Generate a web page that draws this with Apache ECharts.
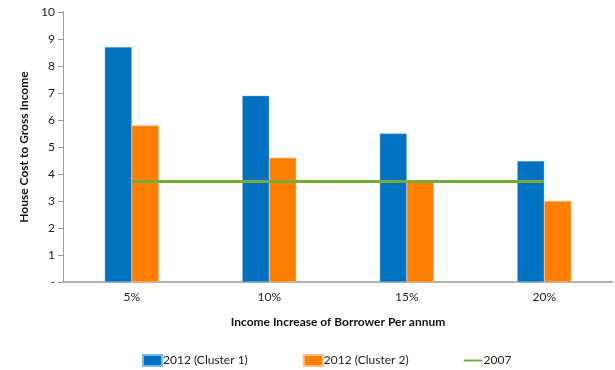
<!DOCTYPE html>
<html>
<head>
<meta charset="utf-8">
<script src="https://cdn.jsdelivr.net/npm/echarts@6/dist/echarts.min.js"></script>
<style>html,body{margin:0;padding:0;background:#fff}#c{width:615px;height:370px}</style>
</head>
<body>
<div id="c"></div>
<script>
const categories = ['5%', '10%', '15%', '20%'];
const cluster1 = [8.7, 6.9, 5.5, 4.48];
const cluster2 = [5.8, 4.6, 3.72, 3.0];
const line2007 = [3.72, 3.72, 3.72, 3.72];
const seriesNames = ['2012 (Cluster 1)', '2012 (Cluster 2)', '2007'];

const font = 'Lato, "Open Sans", sans-serif';
const chart = echarts.init(document.getElementById('c'));
chart.setOption({
  animation: false,
  textStyle: { fontFamily: font },
  grid: { left: 63, right: 2, top: 12, bottom: 88 },
  legend: {
    data: [
      { name: seriesNames[0], icon: 'rect' },
      { name: seriesNames[1], icon: 'rect' },
      { name: seriesNames[2], icon: 'path://M0,0 L20,0 L20,2 L0,2 Z' }
    ],
    left: 142, top: 354, padding: 0,
    itemWidth: 19, itemHeight: 11, itemGap: 55,
    textStyle: { fontFamily: font, fontSize: 12, color: '#222', padding: [0,0,0,-4] }
  },
  xAxis: {
    type: 'category',
    data: categories,
    name: 'Income Increase of Borrower Per annum',
    nameLocation: 'middle',
    nameGap: 34,
    nameTextStyle: { fontFamily: font, fontWeight: 'bold', fontSize: 12, color: '#111' },
    axisLine: { lineStyle: { color: '#999', width: 1.5 } },
    axisTick: { show: false },
    axisLabel: { fontFamily: font, fontSize: 12, color: '#222', margin: 9 }
  },
  yAxis: {
    type: 'value',
    min: 0, max: 10, interval: 1,
    name: 'House Cost to Gross Income',
    nameLocation: 'middle',
    nameGap: 31,
    nameTextStyle: { fontFamily: font, fontWeight: 'bold', fontSize: 12, color: '#111' },
    axisLine: { show: true, lineStyle: { color: '#999' } },
    axisTick: { show: true, length: 5, lineStyle: { color: '#999' } },
    splitLine: { show: false },
    axisLabel: { fontFamily: font, fontSize: 12, color: '#222', margin: 8,
      formatter: v => v === 0 ? '-' : String(v) }
  },
  series: [
    { name: seriesNames[0], type: 'bar', data: cluster1, barWidth: 27, barGap: '0%',
      itemStyle: { color: '#0070c0', borderColor: '#7fb6e6', borderWidth: 0.5 } },
    { name: seriesNames[1], type: 'bar', data: cluster2, barWidth: 27, barGap: '0%',
      itemStyle: { color: '#ff7f00', borderColor: '#ffc080', borderWidth: 0.5 } },
    { name: seriesNames[2], type: 'line', data: line2007, symbol: 'none',
      lineStyle: { color: '#76ab3a', width: 3 }, itemStyle: { color: '#76ab3a' }, z: 5 }
  ]
});
</script>
</body>
</html>
